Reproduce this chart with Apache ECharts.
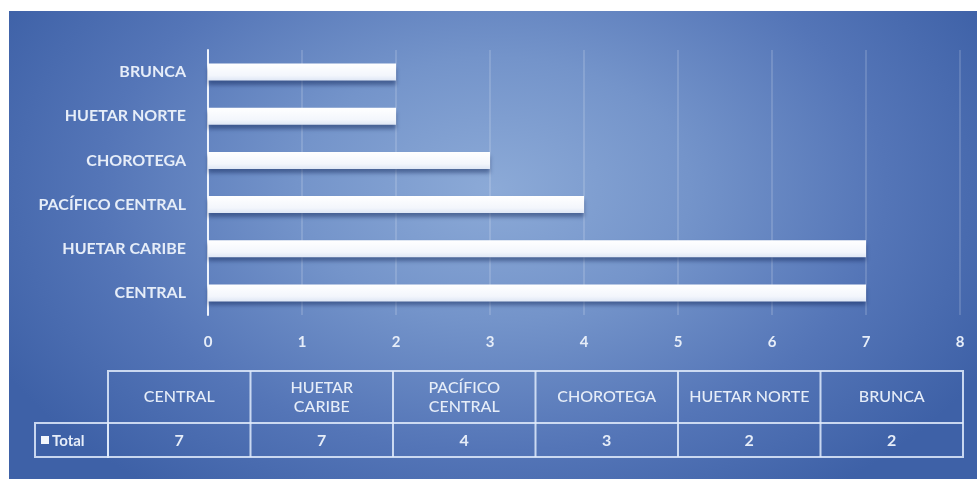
<!DOCTYPE html>
<html>
<head>
<meta charset="utf-8">
<script src="https://cdn.jsdelivr.net/npm/echarts@6/dist/echarts.min.js"></script>
<style>
html,body{margin:0;padding:0;background:#ffffff;width:977px;height:479px;overflow:hidden;}
#chart{position:absolute;left:9px;top:11px;width:968px;height:468px;
background:radial-gradient(ellipse 58% 80% at 50% 38%, #8caad7 0%, #7494ca 35%, #5475b7 70%, #3e61a7 100%);}
</style>
</head>
<body>
<div id="chart"></div>
<script>
// Data
const categories = ['CENTRAL', 'HUETAR CARIBE', 'PACÍFICO CENTRAL', 'CHOROTEGA', 'HUETAR NORTE', 'BRUNCA'];
const totals = [7, 7, 4, 3, 2, 2];
const tableHeaderLabels = ['CENTRAL', 'HUETAR\nCARIBE', 'PACÍFICO\nCENTRAL', 'CHOROTEGA', 'HUETAR NORTE', 'BRUNCA'];
const seriesName = 'Total';
const xTicks = [0, 1, 2, 3, 4, 5, 6, 7, 8];

const FONT = 'Lato, "Open Sans", sans-serif';
const TXT = '#e6edf8';
const LINE = 'rgba(225,235,252,0.85)';

// Table layout (container coords)
const tX0 = 99, colW = 142.5, hTop = 360, hMid = 412, hBot = 446, legLeft = 26;

const graphics = [];
graphics.push({type:'rect', shape:{x:tX0, y:hTop, width:colW*categories.length, height:hBot-hTop},
  style:{fill:'none', stroke:LINE, lineWidth:2}});
graphics.push({type:'rect', shape:{x:legLeft, y:hMid, width:tX0-legLeft, height:hBot-hMid},
  style:{fill:'none', stroke:LINE, lineWidth:2}});
graphics.push({type:'line', shape:{x1:tX0, y1:hMid, x2:tX0+colW*categories.length, y2:hMid},
  style:{stroke:LINE, lineWidth:2}});
for (let i = 1; i < categories.length; i++) {
  graphics.push({type:'line', shape:{x1:tX0+colW*i, y1:hTop, x2:tX0+colW*i, y2:hBot},
    style:{stroke:LINE, lineWidth:2}});
}
tableHeaderLabels.forEach((lab, i) => {
  graphics.push({type:'text', x:tX0+colW*i+colW/2, y:(hTop+hMid)/2,
    style:{text:lab, fill:TXT, font:'500 16px ' + FONT, align:'center', verticalAlign:'middle', lineHeight:19}});
  graphics.push({type:'text', x:tX0+colW*i+colW/2, y:(hMid+hBot)/2 + 1,
    style:{text:String(totals[i]), fill:TXT, font:'bold 16px ' + FONT, align:'center', verticalAlign:'middle'}});
});
graphics.push({type:'rect', shape:{x:legLeft+6, y:(hMid+hBot)/2-4, width:8, height:8}, style:{fill:'#f4f7fc'}});
graphics.push({type:'text', x:legLeft+17, y:(hMid+hBot)/2 + 1,
  style:{text:seriesName, fill:TXT, font:'bold 15px ' + FONT, align:'left', verticalAlign:'middle'}});

const chart = echarts.init(document.getElementById('chart'), null, {renderer:'canvas'});
chart.setOption({
  backgroundColor: 'transparent',
  animation: false,
  grid: {left:199, right:17, top:39, bottom:164, containLabel:false},
  xAxis: {
    type:'value', min:xTicks[0], max:xTicks[xTicks.length-1], interval:1,
    axisLine:{show:false}, axisTick:{show:false},
    splitLine:{show:true, lineStyle:{color:'rgba(255,255,255,0.2)', width:1.5}},
    axisLabel:{color:TXT, fontSize:15, fontWeight:'bold', fontFamily:FONT, margin:20}
  },
  yAxis: {
    type:'category', data:categories,
    axisLine:{show:true, lineStyle:{color:'rgba(245,249,255,0.95)', width:2}},
    axisTick:{show:false},
    splitLine:{show:false},
    axisLabel:{color:TXT, fontSize:16, fontFamily:FONT, fontWeight:'bold', margin:22}
  },
  series: [{
    name: seriesName,
    type:'bar',
    data: totals,
    barWidth: 17,
    itemStyle:{
      color:{type:'linear', x:0, y:0, x2:0, y2:1, colorStops:[
        {offset:0, color:'#ffffff'}, {offset:0.7, color:'#f3f6fc'}, {offset:1, color:'#dfe7f5'}]},
      shadowColor:'rgba(10,30,80,0.45)', shadowBlur:4, shadowOffsetY:4
    }
  }],
  graphic: graphics
});
</script>
</body>
</html>
